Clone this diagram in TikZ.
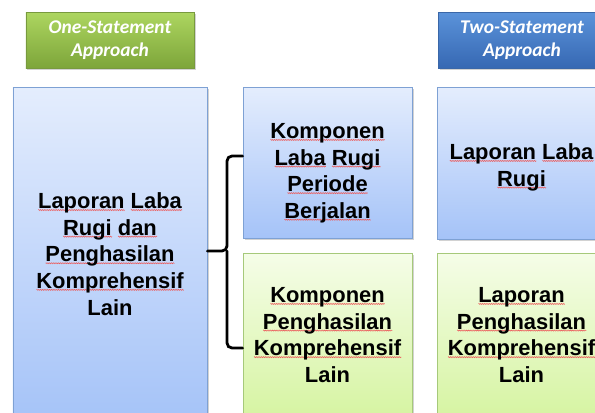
\documentclass[tikz,border=0pt]{standalone}
\usepackage{fontspec}
\setmainfont{Liberation Sans}
\newfontfamily\hdrfont{Carlito}
\usetikzlibrary{shadows,decorations.pathmorphing}
\definecolor{gTop}{HTML}{ADD660}
\definecolor{gBot}{HTML}{7DA53A}
\definecolor{gLine}{HTML}{789A3E}
\definecolor{bTop}{HTML}{5B93DA}
\definecolor{bBot}{HTML}{3668B3}
\definecolor{bLine}{HTML}{3A67A8}
\definecolor{lbTop}{HTML}{E4EDFD}
\definecolor{lbBot}{HTML}{A5C3F8}
\definecolor{lbLine}{HTML}{7EA1D4}
\definecolor{lgTop}{HTML}{F5FDE8}
\definecolor{lgBot}{HTML}{D6F4A2}
\definecolor{lgLine}{HTML}{A6C97A}
\definecolor{spell}{HTML}{EC5A5A}
\newlength\sqwidth
\newsavebox\sqbox
\newcommand\sq[1]{\sbox\sqbox{#1}\setlength\sqwidth{\wd\sqbox}\leavevmode\rlap{\tikz[baseline=0pt,x=1pt,y=1pt]\draw[spell,line width=0.45pt,decorate,decoration={zigzag,amplitude=0.6pt,segment length=1.8pt}] (0,-1.3) -- (\the\sqwidth,-1.3);}\usebox\sqbox}
\begin{document}
\begin{tikzpicture}[x=1bp,y=-1bp,
  shad/.style={drop shadow={shadow xshift=1.5bp,shadow yshift=-2bp,opacity=0.35}},
  header/.style={shad,minimum width=168bp,minimum height=56bp,inner sep=0pt,
    line width=0.8bp,text=white,align=center,
    font=\hdrfont\bfseries\itshape\fontsize{19.5}{23}\selectfont},
  greenhdr/.style={header,top color=gTop,bottom color=gBot,draw=gLine},
  bluehdr/.style={header,top color=bTop,bottom color=bBot,draw=bLine},
  panel/.style={shad,inner sep=0pt,line width=0.8bp,minimum width=169bp},
  bluepanel/.style={panel,top color=lbTop,bottom color=lbBot,draw=lbLine},
  greenpanel/.style={panel,top color=lgTop,bottom color=lgBot,draw=lgLine},
  boxtext/.style={align=center,inner sep=0pt,text depth=0pt,
    font=\bfseries\fontsize{22}{26.7}\selectfont},
  brace/.style={line width=2.8bp,rounded corners=5bp,line cap=round}
]
\useasboundingbox (0,0) rectangle (595,412);
\clip (0,0) rectangle (595,412);
\fill[white] (0,0) rectangle (595,412);

% headers
\node[greenhdr] (hone) at (110,40) {One-Statement\\Approach};
\node[bluehdr] (htwo) at (522,40) {Two-Statement\\Approach};

% panels
\node[bluepanel,minimum width=194bp,minimum height=334bp] (L) at (110,254) {};
\node[bluepanel,minimum height=151bp] (MT) at (327.5,162.5) {};
\node[greenpanel,minimum height=164bp] (MB) at (327.5,335) {};
\node[bluepanel,minimum height=152bp] (RT) at (521.5,163) {};
\node[greenpanel,minimum height=164bp] (RB) at (521.5,335) {};

% texts
\node[boxtext] (Ltxt) at (110,254) {\sq{Laporan} \sq{Laba}\\\sq{Rugi} \sq{dan}\\\sq{Penghasilan}\\\sq{Komprehensif}\\Lain};
\node[boxtext] (MTtxt) at (327.5,171) {\sq{Komponen}\\\sq{Laba} \sq{Rugi}\\\sq{Periode}\\\sq{Berjalan}};
\node[boxtext] (MBtxt) at (327.5,335) {\sq{Komponen}\\\sq{Penghasilan}\\\sq{Komprehensif}\\Lain};
\node[boxtext] (RTtxt) at (521.5,165) {\sq{Laporan} \sq{Laba}\\\sq{Rugi}};
\node[boxtext] (RBtxt) at (521.5,335) {\sq{Laporan}\\\sq{Penghasilan}\\\sq{Komprehensif}\\Lain};

% brace
\coordinate (btop) at (243,156);
\coordinate (bbot) at (243,348);
\coordinate (tip) at (227,251);
\draw[brace] (MT.west |- btop) -| (tip) -- (L.east |- tip);
\draw[brace] (MB.west |- bbot) -| (tip);
\end{tikzpicture}
\end{document}
